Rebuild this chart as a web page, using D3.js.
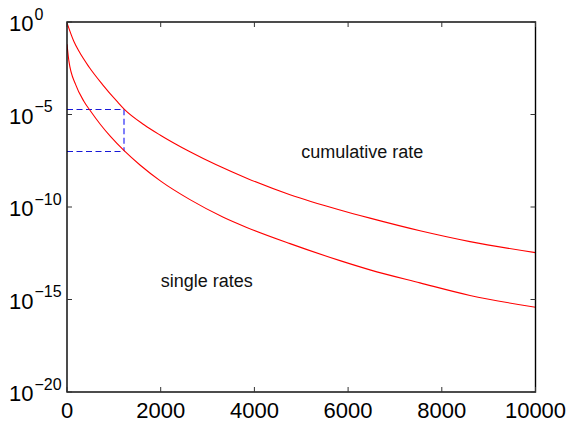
<!DOCTYPE html>
<html>
<head>
<meta charset="utf-8">
<script src="https://cdn.jsdelivr.net/npm/d3@7"></script>
<style>
  html, body { margin: 0; padding: 0; background: #fff; }
  svg { display: block; font-family: "Liberation Sans", Arial, Helvetica, sans-serif; }
</style>
</head>
<body>
<svg id="chart" width="571" height="421"></svg>
<script>
// Sample positions along the horizontal axis
const cumulativeX = [0, 150, 256, 470, 754, 1074, 1225, 1644, 1985, 2625, 3836, 4760, 5827, 6467, 7535, 8602, 10000];
// Cumulative rate at those positions
const cumulativeRate = [0.9, 8.5e-2, 2.6e-2, 3.7e-3, 4.3e-4, 4.9e-5, 1.9e-5, 2.8e-6, 7.8e-7, 9.6e-8, 3.6e-9, 4.6e-10, 6.9e-11, 2.5e-11, 5.2e-12, 1.35e-12, 3.4e-13];

const singleX = [0, 40, 185, 363, 505, 718, 932, 1225, 1558, 2000, 2625, 3336, 3836, 4760, 5827, 6467, 7535, 8602, 10000];
// Single rates at those positions
const singleRate = [6.3e-2, 7.9e-3, 4.1e-4, 5.1e-5, 1.5e-5, 2.8e-6, 6.3e-7, 1.07e-7, 1.86e-8, 2.5e-9, 2.5e-10, 2.8e-11, 7.9e-12, 1.05e-12, 1.26e-13, 4.0e-14, 7.9e-15, 1.66e-15, 3.8e-16];

// Reference point marked with dashed guides
const markX = 1225;
const markUpper = 1.9e-5;
const markLower = 1.07e-7;

// Tick values
const xTicks = [0, 2000, 4000, 6000, 8000, 10000];
const yTickExponents = [0, -5, -10, -15, -20];

// Annotations
const labels = [
  { text: "cumulative rate", x: 5000, y: 4.3e-8 },
  { text: "single rates", x: 2000, y: 5e-15 }
];

const W = 571, H = 421;
const margin = { left: 67, right: 35.5, top: 22, bottom: 29 };
const x0 = margin.left, x1 = W - margin.right;
const y0 = margin.top, y1 = H - margin.bottom;

const x = d3.scaleLinear().domain([0, 10000]).range([x0, x1]);
const y = d3.scaleLog().domain([1e-20, 1]).range([y1, y0]);

const svg = d3.select("#chart");

// Plot frame clip
svg.append("defs").append("clipPath").attr("id", "plotClip")
  .append("rect").attr("x", x0).attr("y", y0).attr("width", x1 - x0).attr("height", y1 - y0);

const plot = svg.append("g").attr("clip-path", "url(#plotClip)");

const line = d3.line()
  .x(d => x(d[0]))
  .y(d => y(d[1]))
  .curve(d3.curveMonotoneX);

const cumulative = cumulativeX.map((v, i) => [v, cumulativeRate[i]]);
const single = singleX.map((v, i) => [v, singleRate[i]]);

// Dashed guides (snapped to the pixel grid so they stay crisp)
const snap = v => Math.round(v) + 0.5;
[markUpper, markLower].forEach(level => {
  plot.append("line")
    .attr("x1", x(0)).attr("x2", x(markX))
    .attr("y1", snap(y(level))).attr("y2", snap(y(level)))
    .attr("stroke", "#1818d8").attr("stroke-width", 1).attr("stroke-dasharray", "6,3.5");
});
plot.append("line")
  .attr("x1", Math.round(x(markX))).attr("x2", Math.round(x(markX)))
  .attr("y1", y(markUpper)).attr("y2", y(markLower))
  .attr("stroke", "#7e7efa").attr("stroke-width", 2).attr("stroke-dasharray", "6,3.5");

// Rate curves
[cumulative, single].forEach(data => {
  plot.append("path")
    .datum(data)
    .attr("fill", "none")
    .attr("stroke", "#ff0000")
    .attr("stroke-width", 1.1)
    .attr("d", line);
});

// Annotation text
svg.selectAll("text.note")
  .data(labels)
  .enter().append("text")
  .attr("class", "note")
  .attr("x", d => x(d.x))
  .attr("y", d => y(d.y))
  .attr("font-size", 18)
  .attr("fill", "#111")
  .text(d => d.text);

// Frame
svg.append("rect")
  .attr("x", x0).attr("y", y0)
  .attr("width", x1 - x0).attr("height", y1 - y0)
  .attr("fill", "none").attr("stroke", "#000").attr("stroke-width", 1.4);

const tickLen = 5;
const tickG = svg.append("g").attr("stroke", "#333").attr("stroke-width", 1);

// X ticks on bottom and top, pointing inward
xTicks.forEach(t => {
  const px = x(t);
  tickG.append("line").attr("x1", px).attr("x2", px).attr("y1", y1).attr("y2", y1 - tickLen);
  tickG.append("line").attr("x1", px).attr("x2", px).attr("y1", y0).attr("y2", y0 + tickLen);
});
// Y ticks on left and right, pointing inward
yTickExponents.forEach(e => {
  const py = y(Math.pow(10, e));
  tickG.append("line").attr("x1", x0).attr("x2", x0 + tickLen).attr("y1", py).attr("y2", py);
  tickG.append("line").attr("x1", x1).attr("x2", x1 - tickLen).attr("y1", py).attr("y2", py);
});

// X tick labels
svg.append("g").selectAll("text")
  .data(xTicks)
  .enter().append("text")
  .attr("x", d => x(d))
  .attr("y", y1 + 25.5)
  .attr("text-anchor", "middle")
  .attr("font-size", 22)
  .attr("fill", "#000")
  .text(d => d);

// Y tick labels as powers of ten
const yl = svg.append("g").selectAll("text")
  .data(yTickExponents)
  .enter().append("text")
  .attr("x", 9)
  .attr("y", d => y(Math.pow(10, d)) + 9)
  .attr("font-size", 22)
  .attr("fill", "#000");
yl.append("tspan").text("10");
yl.append("tspan")
  .attr("dx", 1)
  .attr("dy", -11.5)
  .attr("font-size", 16)
  .text(d => d === 0 ? "0" : "\u2212" + Math.abs(d));
</script>
</body>
</html>
